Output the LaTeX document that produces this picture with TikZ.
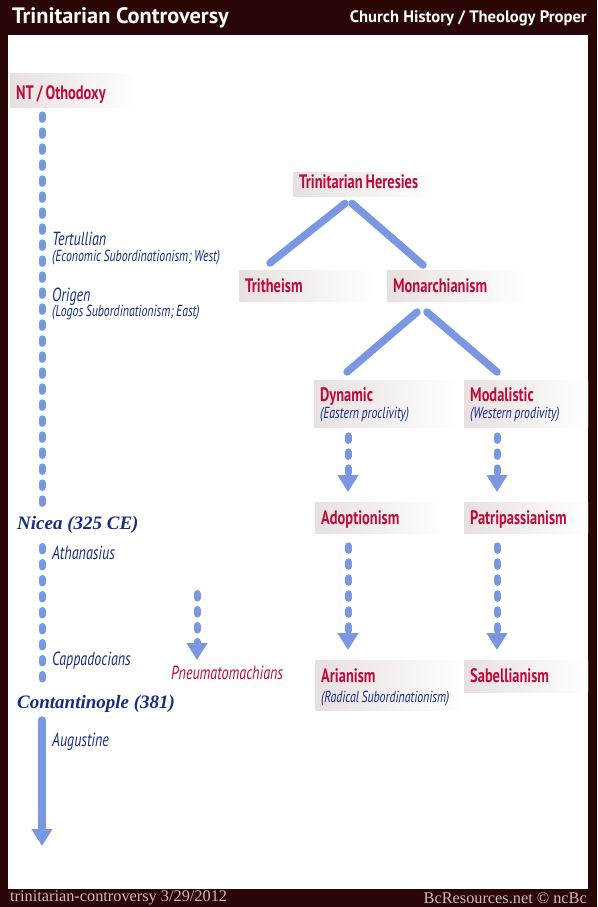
\documentclass[tikz,border=0pt]{standalone}
\usepackage{fontspec}
\usetikzlibrary{arrows.meta,calc}
\newfontfamily\cn[FakeStretch=0.74, WordSpace=0.8]{PT Sans}
\newfontfamily\hd{PT Sans}
\newfontfamily\sr{Liberation Serif}
\definecolor{framec}{RGB}{43,6,6}
\definecolor{hred}{RGB}{190,12,58}
\definecolor{hblue}{RGB}{22,45,130}
\definecolor{lblue}{RGB}{122,152,226}
\definecolor{boxc}{RGB}{232,224,224}
\definecolor{footc}{RGB}{205,185,185}
\tikzset{
  hbox/.style={anchor=north west, left color=boxc, right color=white, inner xsep=6pt, inner ysep=0pt,
    text=hred, font=\cn\bfseries\fontsize{19.5}{21}\selectfont},
  blab/.style={anchor=base west, inner sep=0pt, text=hblue, font=\cn\itshape\fontsize{19}{21}\selectfont},
  bsub/.style={anchor=base west, inner sep=0pt, text=hblue, font=\cn\itshape\fontsize{16}{17}\selectfont},
  slab/.style={anchor=base west, inner sep=0pt, text=hblue, font=\sr\bfseries\itshape\fontsize{19}{21}\selectfont},
  tline/.style={line width=7.5pt, draw=lblue, line cap=round},
  dotline/.style={line width=7pt, draw=lblue, line cap=round, dash pattern=on 4.5pt off 11.5pt},
  dotarrow/.style={dotline, -{Triangle[width=20pt,length=17pt]}, lblue},
}
\newcommand{\subtxt}[1]{{\cn\mdseries\itshape\fontsize{16}{17}\selectfont\color{hblue}#1}}
\newcommand{\lbox}[2]{\makebox[#1][l]{#2}}
\newcommand{\lbtwo}[4]{\makebox[#1][l]{\begin{tabular}[t]{@{}l@{}}#2\\[#3]\subtxt{#4}\end{tabular}}}
\begin{document}
\begin{tikzpicture}[x=1pt,y=-1pt]
\useasboundingbox (0,0) rectangle (597,907);
\fill[framec] (0,0) rectangle (597,907);
\fill[white] (8,35) rectangle (588,889);
% header / footer
\node[anchor=west, inner sep=0pt, text=white, font=\hd\bfseries\fontsize{22.3}{24}\selectfont] (title) at (12,18) {Trinitarian Controversy};
\node[anchor=east, inner sep=0pt, text=white, font=\hd\bfseries\fontsize{16.6}{18}\selectfont] (subtitle) at (587,18) {Church History / Theology Proper};
\node[anchor=west, inner sep=0pt, text=footc, font=\sr\fontsize{16.3}{18}\selectfont] (foot1) at (10,898) {trinitarian-controversy 3/29/2012};
\node[anchor=east, inner sep=0pt, text=footc, font=\sr\fontsize{16.3}{18}\selectfont] (foot2) at (587,898) {BcResources.net © ncBc};
% left timeline
\node[hbox, text height=26.3pt, text depth=7.7pt] (NT) at (10,73) {\lbox{118pt}{NT / Othodoxy}};
\node[blab] (tert) at (52,245.7) {Tertullian};
\node[bsub] (terts) at (52,261) {(Economic Subordinationism; West)};
\node[blab] (orig) at (52,301) {Origen};
\node[bsub] (origs) at (52,316.7) {(Logos Subordinationism; East)};
\node[slab] (nicea) at (17,529.3) {Nicea (325 CE)};
\node[blab] (athan) at (52,559.3) {Athanasius};
\node[blab] (capp) at (52,665) {Cappadocians};
\node[slab] (const) at (17,708) {Contantinople (381)};
\node[blab] (aug) at (52,746) {Augustine};
\node[anchor=base west, inner sep=0pt, text=hred, font=\cn\itshape\fontsize{19}{21}\selectfont] (pneu) at (171,679) {Pneumatomachians};
\coordinate (lx) at (42,0);
\coordinate (px) at (197,0);
\draw[dotline] ($(lx |- NT.south)+(0,7.5)$) -- ($(lx |- nicea.base)+(0,-23)$);
\draw[dotline] ($(lx |- nicea.base)+(0,17.2)$) -- ($(lx |- const.base)+(0,-27)$);
\draw[tline, -{Triangle[width=20pt,length=17pt]}] ($(lx |- const.base)+(0,12)$) -- (42,846);
\draw[dotarrow] ($(px |- capp.base)+(0,-71.5)$) -- ($(px |- pneu.base)+(0,-19)$);
% heresies tree
\node[hbox, text height=16.3pt, text depth=7.7pt] (TH) at (293,172) {\lbox{128pt}{Trinitarian Heresies}};
\node[hbox, text height=22pt, text depth=9.7pt] (tri) at (239,270) {\lbox{123pt}{Tritheism}};
\node[hbox, text height=22pt, text depth=9.7pt] (mon) at (387,270) {\lbox{128pt}{Monarchianism}};
\draw[tline] ($(TH.south west)+(52,7)$) -- ($(tri.north west)+(31,-7)$);
\draw[tline] ($(TH.south west)+(59,7)$) -- ($(mon.north west)+(36,-5)$);
\node[hbox, text height=21pt, text depth=26pt] (dyn) at (314,380) {\lbtwo{133pt}{Dynamic}{-4pt}{(Eastern proclivity)}};
\node[hbox, text height=21pt, text depth=26pt] (mod) at (464,380) {\lbtwo{112pt}{Modalistic}{-4pt}{(Western prodivity)}};
\draw[tline] ($(mon.south west)+(30,10)$) -- ($(dyn.north west)+(33,-8)$);
\draw[tline] ($(mon.south west)+(40,10)$) -- ($(mod.north west)+(33,-8)$);
\node[hbox, text height=22pt, text depth=9pt] (adop) at (315,502) {\lbox{118pt}{Adoptionism}};
\node[hbox, text height=22pt, text depth=9pt] (patr) at (464,502) {\lbox{112pt}{Patripassianism}};
\node[hbox, text height=22.5pt, text depth=27.5pt] (arian) at (315,660) {\lbtwo{140pt}{Arianism}{-1.5pt}{(Radical Subordinationism)}};
\node[hbox, text height=22pt, text depth=10pt] (sabel) at (464,660) {\lbox{112pt}{Sabellianism}};
\draw[dotarrow] ($(dyn.south west)+(34,8.5)$) -- ($(adop.north west)+(33,-10)$);
\draw[dotarrow] ($(mod.south west)+(33,8.5)$) -- ($(patr.north west)+(33,-10)$);
\draw[dotarrow] ($(adop.south west)+(33,12.5)$) -- ($(arian.north west)+(33,-10)$);
\draw[dotarrow] ($(patr.south west)+(33,12.5)$) -- ($(sabel.north west)+(33,-10)$);
\end{tikzpicture}
\end{document}
